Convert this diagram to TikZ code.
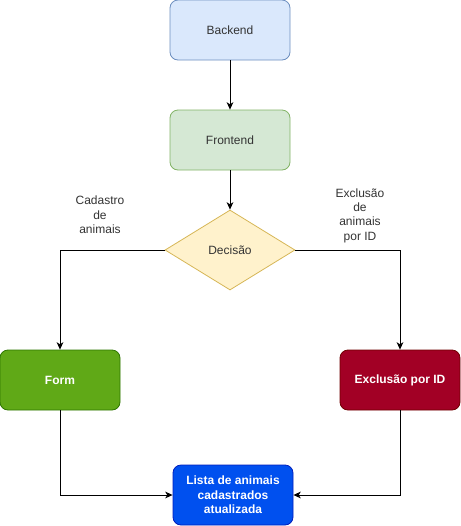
\documentclass[tikz,border=0pt]{standalone}
\usepackage{fontspec}
\setmainfont{Liberation Sans}
\usetikzlibrary{shapes.geometric}
\usetikzlibrary{arrows.meta}

\definecolor{backfill}{HTML}{DAE8FC}
\definecolor{backline}{HTML}{6C8EBF}
\definecolor{frontfill}{HTML}{D5E8D4}
\definecolor{frontline}{HTML}{82B366}
\definecolor{decfill}{HTML}{FFF2CC}
\definecolor{decline}{HTML}{D6B656}
\definecolor{formfill}{HTML}{60A917}
\definecolor{formline}{HTML}{2D7600}
\definecolor{exclfill}{HTML}{A20025}
\definecolor{exclline}{HTML}{6F0000}
\definecolor{listfill}{HTML}{0050EF}
\definecolor{listline}{HTML}{001DBC}
\definecolor{txt}{HTML}{333333}

\begin{document}
\begin{tikzpicture}[x=0.75pt, y=-0.75pt,
    every node/.style={font=\fontsize{9}{10.8}\selectfont},
    box/.style={draw, rounded corners=6pt, line width=0.6pt,
        minimum width=90pt, minimum height=45pt, align=center},
    solid box/.style={box, text=white, font=\fontsize{9}{11}\selectfont\bfseries},
    arrow/.style={-{Stealth[length=5.5pt, width=5pt, inset=1.5pt]}, line width=0.75pt}]
    \useasboundingbox (0,0) rectangle (461,526);

    % Top of the flow
    \node[box, fill=backfill, draw=backline, text=txt] (back) at (230,30) {Backend};
    \node[box, fill=frontfill, draw=frontline, text=txt] (front) at (230,140) {Frontend};
    \node[diamond, draw=decline, fill=decfill, line width=0.6pt, text=txt,
        minimum width=97.5pt, minimum height=60pt, inner sep=0pt] (dec) at (230,250) {Decisão};

    % Branches
    \node[solid box, fill=formfill, draw=formline] (form) at (60,380) {Form};
    \node[solid box, fill=exclfill, draw=exclline] (excl) at (400,380) {Exclusão por ID};
    \node[solid box, fill=listfill, draw=listline] (lista) at (233,495)
        {Lista de animais\\cadastrados\\atualizada};

    % Branch labels
    \node[align=center, text=txt] (cadlbl) at (100,215) {Cadastro\\de\\animais};
    \node[align=center, text=txt] (exclbl) at (360,215.5) {Exclusão\\de\\animais\\por ID};

    % Connectors
    \draw[arrow] (back) -- (front);
    \draw[arrow] (front) -- (dec);
    \draw[arrow] (dec.west) -| (form);
    \draw[arrow] (dec.east) -| (excl);
    \draw[arrow] (form) |- (lista);
    \draw[arrow] (excl) |- (lista);
\end{tikzpicture}
\end{document}
